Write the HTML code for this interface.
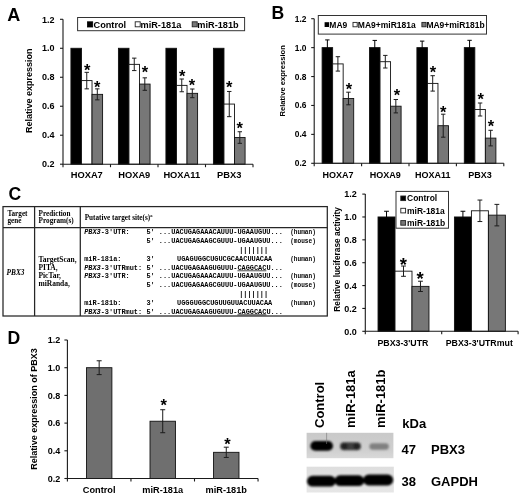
<!DOCTYPE html><html><head><meta charset="utf-8"><title>Figure</title><style>html,body{margin:0;padding:0;background:#fff;overflow:hidden}svg{display:block;filter:grayscale(1)}text{font-family:"Liberation Sans",sans-serif;fill:#000}.sr{font-family:"Liberation Serif",serif}.mo{font-family:"Liberation Mono",monospace}</style></head><body>
<svg width="520" height="499" viewBox="0 0 520 499">
<rect width="520" height="499" fill="#fff"/>
<text x="7.2" y="21.1" font-size="18" font-weight="bold">A</text>
<rect x="70.92" y="48.28" width="10.56" height="115.92" fill="#000" stroke="#111" stroke-width="0.9"/>
<rect x="81.47" y="80.59" width="10.56" height="83.61" fill="#fff" stroke="#111" stroke-width="0.9"/>
<rect x="92.03" y="94.36" width="10.56" height="69.84" fill="#777777" stroke="#111" stroke-width="0.9"/>
<rect x="118.42" y="48.28" width="10.56" height="115.92" fill="#000" stroke="#111" stroke-width="0.9"/>
<rect x="128.97" y="64.36" width="10.56" height="99.84" fill="#fff" stroke="#111" stroke-width="0.9"/>
<rect x="139.53" y="84.07" width="10.56" height="80.13" fill="#777777" stroke="#111" stroke-width="0.9"/>
<rect x="165.92" y="48.28" width="10.56" height="115.92" fill="#000" stroke="#111" stroke-width="0.9"/>
<rect x="176.47" y="85.37" width="10.56" height="78.83" fill="#fff" stroke="#111" stroke-width="0.9"/>
<rect x="187.03" y="93.34" width="10.56" height="70.86" fill="#777777" stroke="#111" stroke-width="0.9"/>
<rect x="213.42" y="48.28" width="10.56" height="115.92" fill="#000" stroke="#111" stroke-width="0.9"/>
<rect x="223.97" y="104.07" width="10.56" height="60.13" fill="#fff" stroke="#111" stroke-width="0.9"/>
<rect x="234.53" y="137.54" width="10.56" height="26.66" fill="#777777" stroke="#111" stroke-width="0.9"/>
<path d="M86.75 72.33V88.85M84.55 72.33H88.95M84.55 88.85H88.95" stroke="#1c1c1c" stroke-width="1" fill="none"/>
<path d="M97.31 88.85V99.86M95.11 88.85H99.51M95.11 99.86H99.51" stroke="#1c1c1c" stroke-width="1" fill="none"/>
<path d="M134.25 58.13V70.59M132.05 58.13H136.45M132.05 70.59H136.45" stroke="#1c1c1c" stroke-width="1" fill="none"/>
<path d="M144.81 77.84V90.3M142.61 77.84H147.01M142.61 90.3H147.01" stroke="#1c1c1c" stroke-width="1" fill="none"/>
<path d="M181.75 79V91.75M179.55 79H183.95M179.55 91.75H183.95" stroke="#1c1c1c" stroke-width="1" fill="none"/>
<path d="M192.31 89V97.69M190.11 89H194.51M190.11 97.69H194.51" stroke="#1c1c1c" stroke-width="1" fill="none"/>
<path d="M229.25 91.46V116.67M227.05 91.46H231.45M227.05 116.67H231.45" stroke="#1c1c1c" stroke-width="1" fill="none"/>
<path d="M239.81 131.74V143.33M237.61 131.74H242.01M237.61 143.33H242.01" stroke="#1c1c1c" stroke-width="1" fill="none"/>
<text x="87.1" y="76.13" font-size="16.5" font-weight="bold" text-anchor="middle">*</text>
<text x="97.2" y="92.58" font-size="16.5" font-weight="bold" text-anchor="middle">*</text>
<text x="144.9" y="78.28" font-size="16.5" font-weight="bold" text-anchor="middle">*</text>
<text x="182.3" y="82.38" font-size="16.5" font-weight="bold" text-anchor="middle">*</text>
<text x="192" y="90.58" font-size="16.5" font-weight="bold" text-anchor="middle">*</text>
<text x="229.3" y="93.38" font-size="16.5" font-weight="bold" text-anchor="middle">*</text>
<text x="239.8" y="134.28" font-size="16.5" font-weight="bold" text-anchor="middle">*</text>
<path d="M63 19.3V164.2H253" stroke="#1a1a1a" stroke-width="1.1" fill="none"/>
<path d="M60 164.2H63" stroke="#1a1a1a" stroke-width="1.1"/>
<text x="54.5" y="167.4" font-size="9" font-weight="bold" text-anchor="end">0.2</text>
<path d="M60 135.22H63" stroke="#1a1a1a" stroke-width="1.1"/>
<text x="54.5" y="138.42" font-size="9" font-weight="bold" text-anchor="end">0.4</text>
<path d="M60 106.24H63" stroke="#1a1a1a" stroke-width="1.1"/>
<text x="54.5" y="109.44" font-size="9" font-weight="bold" text-anchor="end">0.6</text>
<path d="M60 77.26H63" stroke="#1a1a1a" stroke-width="1.1"/>
<text x="54.5" y="80.46" font-size="9" font-weight="bold" text-anchor="end">0.8</text>
<path d="M60 48.28H63" stroke="#1a1a1a" stroke-width="1.1"/>
<text x="54.5" y="51.48" font-size="9" font-weight="bold" text-anchor="end">1.0</text>
<path d="M60 19.3H63" stroke="#1a1a1a" stroke-width="1.1"/>
<text x="54.5" y="22.5" font-size="9" font-weight="bold" text-anchor="end">1.2</text>
<path d="M63 164.2V167.2" stroke="#1a1a1a" stroke-width="1.1"/>
<path d="M110.5 164.2V167.2" stroke="#1a1a1a" stroke-width="1.1"/>
<path d="M158 164.2V167.2" stroke="#1a1a1a" stroke-width="1.1"/>
<path d="M205.5 164.2V167.2" stroke="#1a1a1a" stroke-width="1.1"/>
<path d="M253 164.2V167.2" stroke="#1a1a1a" stroke-width="1.1"/>
<text x="86.75" y="178" font-size="9.3" font-weight="bold" text-anchor="middle">HOXA7</text>
<text x="134.25" y="178" font-size="9.3" font-weight="bold" text-anchor="middle">HOXA9</text>
<text x="181.75" y="178" font-size="9.3" font-weight="bold" text-anchor="middle">HOXA11</text>
<text x="229.25" y="178" font-size="9.3" font-weight="bold" text-anchor="middle">PBX3</text>
<text transform="translate(31.8 90.7) rotate(-90)" font-size="9" font-weight="bold" text-anchor="middle">Relative expression</text>
<rect x="77.6" y="17.5" width="167" height="13.2" fill="#fff" stroke="#333" stroke-width="1"/>
<rect x="87.5" y="21.8" width="5.2" height="5.2" fill="#000" stroke="#000" stroke-width="0.8"/>
<text x="93.5" y="28" font-size="9.2" font-weight="bold">Control</text>
<rect x="135.2" y="21.8" width="5" height="5" fill="#fff" stroke="#222" stroke-width="0.9"/>
<text x="140.5" y="28" font-size="9.2" font-weight="bold">miR-181a</text>
<rect x="192.2" y="21.8" width="5" height="5" fill="#777777" stroke="#222" stroke-width="0.9"/>
<text x="197.3" y="28" font-size="9.2" font-weight="bold">miR-181b</text>
<text x="271.4" y="18.8" font-size="17.6" font-weight="bold">B</text>
<rect x="322.1" y="47.62" width="10.53" height="115.68" fill="#000" stroke="#111" stroke-width="0.9"/>
<rect x="332.63" y="63.9" width="10.53" height="99.4" fill="#fff" stroke="#111" stroke-width="0.9"/>
<rect x="343.17" y="98.5" width="10.53" height="64.8" fill="#777777" stroke="#111" stroke-width="0.9"/>
<rect x="369.5" y="47.62" width="10.53" height="115.68" fill="#000" stroke="#111" stroke-width="0.9"/>
<rect x="380.03" y="61.7" width="10.53" height="101.6" fill="#fff" stroke="#111" stroke-width="0.9"/>
<rect x="390.57" y="106.2" width="10.53" height="57.1" fill="#777777" stroke="#111" stroke-width="0.9"/>
<rect x="416.9" y="47.62" width="10.53" height="115.68" fill="#000" stroke="#111" stroke-width="0.9"/>
<rect x="427.43" y="83.4" width="10.53" height="79.9" fill="#fff" stroke="#111" stroke-width="0.9"/>
<rect x="437.97" y="125.7" width="10.53" height="37.6" fill="#777777" stroke="#111" stroke-width="0.9"/>
<rect x="464.3" y="47.62" width="10.53" height="115.68" fill="#000" stroke="#111" stroke-width="0.9"/>
<rect x="474.83" y="109.5" width="10.53" height="53.8" fill="#fff" stroke="#111" stroke-width="0.9"/>
<rect x="485.37" y="138.1" width="10.53" height="25.2" fill="#777777" stroke="#111" stroke-width="0.9"/>
<path d="M327.37 39.92V55.32M325.17 39.92H329.57M325.17 55.32H329.57" stroke="#000" stroke-width="1" fill="none"/>
<path d="M337.9 56.7V71.1M335.7 56.7H340.1M335.7 71.1H340.1" stroke="#1c1c1c" stroke-width="1" fill="none"/>
<path d="M348.43 92.2V104.8M346.23 92.2H350.63M346.23 104.8H350.63" stroke="#1c1c1c" stroke-width="1" fill="none"/>
<path d="M374.77 40.42V54.82M372.57 40.42H376.97M372.57 54.82H376.97" stroke="#000" stroke-width="1" fill="none"/>
<path d="M385.3 55.4V68M383.1 55.4H387.5M383.1 68H387.5" stroke="#1c1c1c" stroke-width="1" fill="none"/>
<path d="M395.83 99.5V112.9M393.63 99.5H398.03M393.63 112.9H398.03" stroke="#1c1c1c" stroke-width="1" fill="none"/>
<path d="M422.17 41.12V54.12M419.97 41.12H424.37M419.97 54.12H424.37" stroke="#000" stroke-width="1" fill="none"/>
<path d="M432.7 75.7V91.1M430.5 75.7H434.9M430.5 91.1H434.9" stroke="#1c1c1c" stroke-width="1" fill="none"/>
<path d="M443.23 114.2V137.2M441.03 114.2H445.43M441.03 137.2H445.43" stroke="#1c1c1c" stroke-width="1" fill="none"/>
<path d="M469.57 40.32V54.92M467.37 40.32H471.77M467.37 54.92H471.77" stroke="#000" stroke-width="1" fill="none"/>
<path d="M480.1 103V116M477.9 103H482.3M477.9 116H482.3" stroke="#1c1c1c" stroke-width="1" fill="none"/>
<path d="M490.63 130.3V145.9M488.43 130.3H492.83M488.43 145.9H492.83" stroke="#1c1c1c" stroke-width="1" fill="none"/>
<text x="349" y="94.58" font-size="16.5" font-weight="bold" text-anchor="middle">*</text>
<text x="396.9" y="101.08" font-size="16.5" font-weight="bold" text-anchor="middle">*</text>
<text x="432.9" y="78.18" font-size="16.5" font-weight="bold" text-anchor="middle">*</text>
<text x="443.2" y="117.58" font-size="16.5" font-weight="bold" text-anchor="middle">*</text>
<text x="480.8" y="104.58" font-size="16.5" font-weight="bold" text-anchor="middle">*</text>
<text x="491" y="132.48" font-size="16.5" font-weight="bold" text-anchor="middle">*</text>
<path d="M314.2 18.7V163.3H503.8" stroke="#1a1a1a" stroke-width="1.1" fill="none"/>
<path d="M311.2 163.3H314.2" stroke="#1a1a1a" stroke-width="1.1"/>
<text x="306.5" y="166.3" font-size="8.4" font-weight="bold" text-anchor="end">0.2</text>
<path d="M311.2 134.38H314.2" stroke="#1a1a1a" stroke-width="1.1"/>
<text x="306.5" y="137.38" font-size="8.4" font-weight="bold" text-anchor="end">0.4</text>
<path d="M311.2 105.46H314.2" stroke="#1a1a1a" stroke-width="1.1"/>
<text x="306.5" y="108.46" font-size="8.4" font-weight="bold" text-anchor="end">0.6</text>
<path d="M311.2 76.54H314.2" stroke="#1a1a1a" stroke-width="1.1"/>
<text x="306.5" y="79.54" font-size="8.4" font-weight="bold" text-anchor="end">0.8</text>
<path d="M311.2 47.62H314.2" stroke="#1a1a1a" stroke-width="1.1"/>
<text x="306.5" y="50.62" font-size="8.4" font-weight="bold" text-anchor="end">1.0</text>
<path d="M311.2 18.7H314.2" stroke="#1a1a1a" stroke-width="1.1"/>
<text x="306.5" y="21.7" font-size="8.4" font-weight="bold" text-anchor="end">1.2</text>
<path d="M314.2 163.3V166.3" stroke="#1a1a1a" stroke-width="1.1"/>
<path d="M361.6 163.3V166.3" stroke="#1a1a1a" stroke-width="1.1"/>
<path d="M409 163.3V166.3" stroke="#1a1a1a" stroke-width="1.1"/>
<path d="M456.4 163.3V166.3" stroke="#1a1a1a" stroke-width="1.1"/>
<path d="M503.8 163.3V166.3" stroke="#1a1a1a" stroke-width="1.1"/>
<text x="337.9" y="177.8" font-size="9" font-weight="bold" text-anchor="middle">HOXA7</text>
<text x="385.3" y="177.8" font-size="9" font-weight="bold" text-anchor="middle">HOXA9</text>
<text x="432.7" y="177.8" font-size="9" font-weight="bold" text-anchor="middle">HOXA11</text>
<text x="480.1" y="177.8" font-size="9" font-weight="bold" text-anchor="middle">PBX3</text>
<text transform="translate(285 80.8) rotate(-90)" font-size="7.6" font-weight="bold" text-anchor="middle">Relative expression</text>
<rect x="318.3" y="15.5" width="168.2" height="18.6" fill="#fff" stroke="#333" stroke-width="1"/>
<rect x="324.6" y="22.2" width="4.4" height="4.8" fill="#000"/>
<text x="329.3" y="28" font-size="8.5" font-weight="bold">MA9</text>
<rect x="353" y="22.4" width="4.2" height="4.4" fill="#fff" stroke="#222" stroke-width="0.9"/>
<text x="357.8" y="28" font-size="8.5" font-weight="bold">MA9+miR181a</text>
<rect x="421.9" y="22.4" width="4.2" height="4.4" fill="#777777" stroke="#222" stroke-width="0.9"/>
<text x="426.4" y="28" font-size="8.5" font-weight="bold">MA9+miR181b</text>
<text x="8.4" y="199.8" font-size="17.6" font-weight="bold">C</text>
<rect x="3" y="206.6" width="324.3" height="109.4" fill="none" stroke="#262626" stroke-width="1.25"/>
<path d="M3 227.5H327.3M34.6 206.6V316M80.3 206.6V316" stroke="#262626" stroke-width="1.25"/>
<text class="sr" x="7.4" y="215.7" font-size="7.2" font-weight="bold">Target</text>
<text class="sr" x="7.4" y="223.1" font-size="7.2" font-weight="bold">gene</text>
<text class="sr" x="38.6" y="215.7" font-size="7.2" font-weight="bold">Prediction</text>
<text class="sr" x="38.6" y="223.1" font-size="7.2" font-weight="bold">Program(s)</text>
<text class="sr" x="84.7" y="220.2" font-size="7.2" font-weight="bold">Putative target site(s)<tspan font-size="4.5" dy="-3">a</tspan></text>
<text class="sr" x="6.6" y="274.8" font-size="7.3" font-style="italic" font-weight="bold">PBX3</text>
<text class="sr" x="38.4" y="261.7" font-size="7.5" font-weight="bold">TargetScan,</text>
<text class="sr" x="38.4" y="269.8" font-size="7.5" font-weight="bold">PITA,</text>
<text class="sr" x="38.4" y="277.9" font-size="7.5" font-weight="bold">PicTar,</text>
<text class="sr" x="38.4" y="286" font-size="7.5" font-weight="bold">miRanda,</text>
<text class="mo" x="84.2" y="234.3" font-size="6.9" font-weight="bold"><tspan font-style="italic">PBX3</tspan>-3'UTR:</text>
<text class="mo" x="146.45" y="234.3" font-size="6.9" font-weight="bold">5'&#160;...UACUGAGAAACAUUU-UGAAUGUU...</text>
<text class="mo" x="146.45" y="243.1" font-size="6.9" font-weight="bold">5'&#160;...UACUGAGAAGCGUUU-UGAAUGUU...</text>
<text class="mo" x="239.15" y="251.9" font-size="6.9" font-weight="bold">|||||||</text>
<text class="mo" x="84.2" y="260.7" font-size="6.9" font-weight="bold">miR-181a:</text>
<text class="mo" x="146.45" y="260.7" font-size="6.9" font-weight="bold">3'</text>
<text class="mo" x="177.1" y="260.7" font-size="6.9" font-weight="bold">UGAGUGGCUGUCGCAACUUACAA</text>
<text class="mo" x="84.2" y="269.5" font-size="6.9" font-weight="bold"><tspan font-style="italic">PBX3</tspan>-3'UTRmut:</text>
<text class="mo" x="146.45" y="269.5" font-size="6.9" font-weight="bold">5'&#160;...UACUGAGAAGUGUUU-<tspan text-decoration="underline">CAGGCAC</tspan>U...</text>
<text class="mo" x="290.2" y="234.3" font-size="6.9" font-weight="bold" textLength="25.6" lengthAdjust="spacingAndGlyphs">(human)</text>
<text class="mo" x="290.2" y="243.1" font-size="6.9" font-weight="bold" textLength="25.6" lengthAdjust="spacingAndGlyphs">(mouse)</text>
<text class="mo" x="290.2" y="260.7" font-size="6.9" font-weight="bold" textLength="25.6" lengthAdjust="spacingAndGlyphs">(human)</text>
<text class="mo" x="84.2" y="278.3" font-size="6.9" font-weight="bold"><tspan font-style="italic">PBX3</tspan>-3'UTR:</text>
<text class="mo" x="146.45" y="278.3" font-size="6.9" font-weight="bold">5'&#160;...UACUGAGAAACAUUU-UGAAUGUU...</text>
<text class="mo" x="146.45" y="287.1" font-size="6.9" font-weight="bold">5'&#160;...UACUGAGAAGCGUUU-UGAAUGUU...</text>
<text class="mo" x="239.15" y="295.9" font-size="6.9" font-weight="bold">|||||||</text>
<text class="mo" x="84.2" y="304.7" font-size="6.9" font-weight="bold">miR-181b:</text>
<text class="mo" x="146.45" y="304.7" font-size="6.9" font-weight="bold">3'</text>
<text class="mo" x="177.1" y="304.7" font-size="6.9" font-weight="bold">UGGGUGGCUGUUGUUACUUACAA</text>
<text class="mo" x="84.2" y="313.5" font-size="6.9" font-weight="bold"><tspan font-style="italic">PBX3</tspan>-3'UTRmut:</text>
<text class="mo" x="146.45" y="313.5" font-size="6.9" font-weight="bold">5'&#160;...UACUGAGAAGUGUUU-<tspan text-decoration="underline">CAGGCAC</tspan>U...</text>
<text class="mo" x="290.2" y="278.3" font-size="6.9" font-weight="bold" textLength="25.6" lengthAdjust="spacingAndGlyphs">(human)</text>
<text class="mo" x="290.2" y="287.1" font-size="6.9" font-weight="bold" textLength="25.6" lengthAdjust="spacingAndGlyphs">(mouse)</text>
<text class="mo" x="290.2" y="304.7" font-size="6.9" font-weight="bold" textLength="25.6" lengthAdjust="spacingAndGlyphs">(human)</text>
<rect x="378.03" y="216.97" width="16.98" height="114.33" fill="#000" stroke="#111" stroke-width="0.9"/>
<rect x="395.01" y="271.16" width="16.98" height="60.14" fill="#fff" stroke="#111" stroke-width="0.9"/>
<rect x="411.99" y="286.37" width="16.98" height="44.93" fill="#777777" stroke="#111" stroke-width="0.9"/>
<rect x="454.43" y="216.97" width="16.98" height="114.33" fill="#000" stroke="#111" stroke-width="0.9"/>
<rect x="471.41" y="210.79" width="16.98" height="120.51" fill="#fff" stroke="#111" stroke-width="0.9"/>
<rect x="488.39" y="215.14" width="16.98" height="116.16" fill="#777777" stroke="#111" stroke-width="0.9"/>
<path d="M386.52 211.25V222.68M384.12 211.25H388.92M384.12 222.68H388.92" stroke="#000" stroke-width="1" fill="none"/>
<path d="M403.5 266.02V276.31M401.1 266.02H405.9M401.1 276.31H405.9" stroke="#1c1c1c" stroke-width="1" fill="none"/>
<path d="M420.48 281.22V291.51M418.08 281.22H422.88M418.08 291.51H422.88" stroke="#1c1c1c" stroke-width="1" fill="none"/>
<path d="M462.92 211.25V222.68M460.52 211.25H465.32M460.52 222.68H465.32" stroke="#000" stroke-width="1" fill="none"/>
<path d="M479.9 200.05V221.54M477.5 200.05H482.3M477.5 221.54H482.3" stroke="#1c1c1c" stroke-width="1" fill="none"/>
<path d="M496.88 204.39V225.88M494.48 204.39H499.28M494.48 225.88H499.28" stroke="#1c1c1c" stroke-width="1" fill="none"/>
<text x="403.4" y="270.79" font-size="18.5" font-weight="bold" text-anchor="middle">*</text>
<text x="420" y="284.59" font-size="18.5" font-weight="bold" text-anchor="middle">*</text>
<path d="M365.3 194.1V331.3H518.1" stroke="#1a1a1a" stroke-width="1.1" fill="none"/>
<path d="M362.3 331.3H365.3" stroke="#1a1a1a" stroke-width="1.1"/>
<text x="356.8" y="334.5" font-size="9" font-weight="bold" text-anchor="end">0.0</text>
<path d="M362.3 308.43H365.3" stroke="#1a1a1a" stroke-width="1.1"/>
<text x="356.8" y="311.63" font-size="9" font-weight="bold" text-anchor="end">0.2</text>
<path d="M362.3 285.57H365.3" stroke="#1a1a1a" stroke-width="1.1"/>
<text x="356.8" y="288.77" font-size="9" font-weight="bold" text-anchor="end">0.4</text>
<path d="M362.3 262.7H365.3" stroke="#1a1a1a" stroke-width="1.1"/>
<text x="356.8" y="265.9" font-size="9" font-weight="bold" text-anchor="end">0.6</text>
<path d="M362.3 239.83H365.3" stroke="#1a1a1a" stroke-width="1.1"/>
<text x="356.8" y="243.03" font-size="9" font-weight="bold" text-anchor="end">0.8</text>
<path d="M362.3 216.97H365.3" stroke="#1a1a1a" stroke-width="1.1"/>
<text x="356.8" y="220.17" font-size="9" font-weight="bold" text-anchor="end">1.0</text>
<path d="M362.3 194.1H365.3" stroke="#1a1a1a" stroke-width="1.1"/>
<text x="356.8" y="197.3" font-size="9" font-weight="bold" text-anchor="end">1.2</text>
<path d="M365.3 331.3V334.3" stroke="#1a1a1a" stroke-width="1.1"/>
<path d="M441.7 331.3V334.3" stroke="#1a1a1a" stroke-width="1.1"/>
<path d="M518.1 331.3V334.3" stroke="#1a1a1a" stroke-width="1.1"/>
<text x="402.9" y="346" font-size="8.8" font-weight="bold" text-anchor="middle">PBX3-3'UTR</text>
<text x="479.3" y="346" font-size="8.8" font-weight="bold" text-anchor="middle">PBX3-3'UTRmut</text>
<text transform="translate(340.2 259.4) rotate(-90)" font-size="8.4" font-weight="bold" text-anchor="middle">Relative luciferase activity</text>
<rect x="396" y="191.4" width="52.5" height="36.8" fill="#fff" stroke="#333" stroke-width="1"/>
<rect x="400.8" y="196" width="4.8" height="4.6" fill="#000" stroke="#222" stroke-width="0.9"/>
<text x="407" y="201.4" font-size="8.5" font-weight="bold">Control</text>
<rect x="400.8" y="208.3" width="4.8" height="4.6" fill="#fff" stroke="#222" stroke-width="0.9"/>
<text x="407" y="213.7" font-size="8.5" font-weight="bold">miR-181a</text>
<rect x="400.8" y="220.6" width="4.8" height="4.6" fill="#777777" stroke="#222" stroke-width="0.9"/>
<text x="407" y="226" font-size="8.5" font-weight="bold">miR-181b</text>
<text x="7.4" y="343.6" font-size="17.6" font-weight="bold">D</text>
<rect x="86.47" y="367.7" width="25.42" height="110.8" fill="#6f6f6f" stroke="#111" stroke-width="0.9"/>
<rect x="150.01" y="421.23" width="25.42" height="57.27" fill="#6f6f6f" stroke="#111" stroke-width="0.9"/>
<rect x="213.56" y="452.32" width="25.42" height="26.18" fill="#6f6f6f" stroke="#111" stroke-width="0.9"/>
<path d="M99.17 360.77V374.62M96.67 360.77H101.67M96.67 374.62H101.67" stroke="#1c1c1c" stroke-width="1" fill="none"/>
<path d="M162.72 409.73V432.73M160.22 409.73H165.22M160.22 432.73H165.22" stroke="#1c1c1c" stroke-width="1" fill="none"/>
<path d="M226.28 447.2V457.45M223.78 447.2H228.78M223.78 457.45H228.78" stroke="#1c1c1c" stroke-width="1" fill="none"/>
<text x="163.8" y="410.88" font-size="16.5" font-weight="bold" text-anchor="middle">*</text>
<text x="227.4" y="450.38" font-size="16.5" font-weight="bold" text-anchor="middle">*</text>
<path d="M67.4 340V478.5H258.05" stroke="#1a1a1a" stroke-width="1.1" fill="none"/>
<path d="M64.4 478.5H67.4" stroke="#1a1a1a" stroke-width="1.1"/>
<text x="60.3" y="481.7" font-size="9" font-weight="bold" text-anchor="end">0.2</text>
<path d="M64.4 450.8H67.4" stroke="#1a1a1a" stroke-width="1.1"/>
<text x="60.3" y="454" font-size="9" font-weight="bold" text-anchor="end">0.4</text>
<path d="M64.4 423.1H67.4" stroke="#1a1a1a" stroke-width="1.1"/>
<text x="60.3" y="426.3" font-size="9" font-weight="bold" text-anchor="end">0.6</text>
<path d="M64.4 395.4H67.4" stroke="#1a1a1a" stroke-width="1.1"/>
<text x="60.3" y="398.6" font-size="9" font-weight="bold" text-anchor="end">0.8</text>
<path d="M64.4 367.7H67.4" stroke="#1a1a1a" stroke-width="1.1"/>
<text x="60.3" y="370.9" font-size="9" font-weight="bold" text-anchor="end">1.0</text>
<path d="M64.4 340H67.4" stroke="#1a1a1a" stroke-width="1.1"/>
<text x="60.3" y="343.2" font-size="9" font-weight="bold" text-anchor="end">1.2</text>
<path d="M67.4 478.5V481.5" stroke="#1a1a1a" stroke-width="1.1"/>
<path d="M130.95 478.5V481.5" stroke="#1a1a1a" stroke-width="1.1"/>
<path d="M194.5 478.5V481.5" stroke="#1a1a1a" stroke-width="1.1"/>
<path d="M258.05 478.5V481.5" stroke="#1a1a1a" stroke-width="1.1"/>
<text x="99.18" y="493.4" font-size="9.2" font-weight="bold" text-anchor="middle">Control</text>
<text x="162.73" y="493.4" font-size="9.2" font-weight="bold" text-anchor="middle">miR-181a</text>
<text x="226.28" y="493.4" font-size="9.2" font-weight="bold" text-anchor="middle">miR-181b</text>
<text transform="translate(37 408.9) rotate(-90)" font-size="9" font-weight="bold" text-anchor="middle">Relative expression of PBX3</text>
<defs><filter id="b1" x="-20%" y="-60%" width="140%" height="220%"><feGaussianBlur stdDeviation="1.3"/></filter><filter id="b2" x="-10%" y="-60%" width="120%" height="220%"><feGaussianBlur stdDeviation="0.8"/></filter><linearGradient id="g1" x1="0" y1="0" x2="0" y2="1"><stop offset="0" stop-color="#c9c9c9"/><stop offset="0.7" stop-color="#d0d0d0"/><stop offset="1" stop-color="#d9d9d9"/></linearGradient><linearGradient id="g2" x1="0" y1="0" x2="0" y2="1"><stop offset="0" stop-color="#dedede"/><stop offset="1" stop-color="#e6e6e6"/></linearGradient></defs>
<rect x="306.6" y="432.8" width="86.8" height="25.4" fill="url(#g1)"/>
<g filter="url(#b1)"><rect x="310.4" y="441" width="22.6" height="9.8" rx="4.9" fill="#000"/><rect x="340" y="442.2" width="21" height="8" rx="4" fill="#3c3c3c"/><rect x="341.5" y="443.2" width="6" height="6" rx="3" fill="#222"/><rect x="353.5" y="443.2" width="6" height="6" rx="3" fill="#222"/><rect x="369.4" y="443.3" width="19.4" height="6.4" rx="3.2" fill="#808080"/></g>
<path d="M326.6 432.8V444" stroke="#777" stroke-width="0.6"/>
<rect x="306.6" y="466.7" width="87.2" height="25.8" fill="url(#g2)"/>
<g filter="url(#b2)"><rect x="307" y="475.8" width="28.8" height="10.8" rx="5.4" fill="#000"/><rect x="334.6" y="475.3" width="29.6" height="10.8" rx="5.4" fill="#000"/><rect x="363.2" y="474.6" width="30" height="10.8" rx="5.4" fill="#000"/></g>
<text transform="translate(324 428) rotate(-90)" font-size="13" font-weight="bold">Control</text>
<text transform="translate(354.5 428) rotate(-90)" font-size="13" font-weight="bold">miR-181a</text>
<text transform="translate(384.5 428) rotate(-90)" font-size="13" font-weight="bold">miR-181b</text>
<text x="402.3" y="428" font-size="13" font-weight="bold">kDa</text>
<text x="401.6" y="454.3" font-size="13" font-weight="bold">47</text>
<text x="431" y="454.3" font-size="13" font-weight="bold">PBX3</text>
<text x="401.6" y="486" font-size="13" font-weight="bold">38</text>
<text x="431" y="486" font-size="13" font-weight="bold">GAPDH</text>
</svg></body></html>
